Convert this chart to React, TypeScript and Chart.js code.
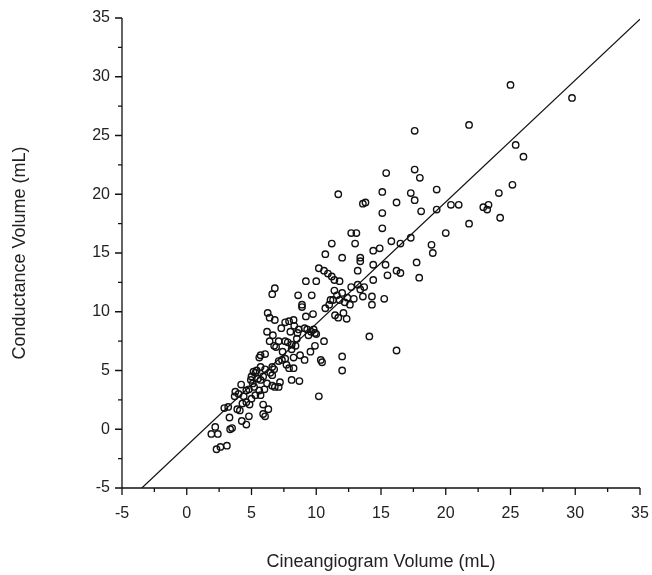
import React, { useEffect, useRef } from 'react';
import { Chart, registerables } from 'chart.js';

Chart.register(...registerables);

// Cineangiogram volume (x) vs conductance volume (y), mL
const cineX = [
  2.2, 1.9, 2.4, 2.3, 2.6, 3.1, 3.3, 3.35, 3.5, 2.9, 3.2, 3.7, 3.75, 4.2, 3.9, 4.1, 4.3, 4.6, 4.25, 4.6,
  4.8, 4.85, 4.6, 4.8, 4.95, 5.0, 5.3, 5.15, 5.4, 5.2, 5.6, 5.3, 5.7, 5.9, 5.9, 6.3, 6.05, 5.7, 5.9, 6.05,
  5.6, 5.7, 6.05, 6.2, 6.25, 6.4, 6.6, 6.8, 6.4, 6.75, 6.9, 7.1, 6.8, 6.65, 6.6, 6.75, 6.45, 6.6, 6.2, 6.6,
  6.8, 7.1, 7.2, 7.1, 7.35, 7.6, 7.3, 7.6, 7.9, 7.6, 7.8, 8.1, 7.7, 8.1, 8.25, 8.25, 8.1, 8.4, 8.25, 8.3,
  8.55, 8.65, 8.7, 8.6, 8.9, 8.9, 8.75, 9.1, 9.2, 9.65, 9.75, 9.1, 9.3, 9.6, 9.8, 9.9, 10.0, 9.55, 9.9, 10.35,
  10.45, 10.2, 10.6, 11.1,
  5.1, 5.5, 4.4, 4.0, 5.0, 6.0, 7.4, 8.0, 7.9, 9.4, 8.5, 5.7,
  11.7, 15.1, 17.3, 13.6, 13.8, 16.2, 17.6, 15.1, 18.1, 15.1, 12.7, 13.1, 11.2, 13.0, 15.8, 16.5, 17.3, 14.4, 14.9, 12.0,
  13.4, 13.4, 14.4, 15.35, 17.75, 13.2, 16.2, 16.5, 15.5, 14.4, 17.95, 12.7, 13.7, 13.4, 14.3, 15.25, 13.6, 12.9, 14.3, 11.45,
  11.7, 12.1, 12.35, 14.1, 12.0, 12.0, 16.2,
  15.4, 17.6, 18.0, 17.6,
  10.7, 10.2, 10.6, 10.9, 11.2, 11.4, 11.8, 9.2, 10.0,
  11.4, 11.6, 12.0, 11.8, 12.2, 12.6, 13.2, 11.3, 12.4, 10.7, 11.0,
  25.0, 29.75, 21.8, 25.4, 26.0, 19.3, 25.15, 24.1, 19.3, 20.4, 21.0, 22.9, 23.3, 23.2, 24.2, 21.8, 20.0, 18.9, 19.0,
];

const condY = [
  0.2, -0.4, -0.4, -1.7, -1.5, -1.4, 1.0, 0.0, 0.1, 1.8, 1.9, 2.8, 3.2, 3.8, 1.7, 1.6, 2.2, 2.3, 0.7, 0.4,
  1.1, 2.1, 3.3, 3.4, 4.2, 4.5, 4.8, 4.9, 5.0, 3.6, 3.3, 2.9, 2.9, 2.1, 1.3, 1.7, 1.1, 4.2, 4.5, 5.1,
  6.1, 6.3, 6.4, 8.3, 9.9, 9.5, 11.5, 12.0, 7.5, 7.1, 7.0, 7.5, 9.3, 8.0, 5.3, 5.1, 4.8, 4.6, 3.9, 3.7,
  3.6, 3.6, 4.0, 5.8, 5.9, 6.0, 8.6, 9.1, 9.2, 7.5, 7.4, 7.2, 5.5, 4.2, 5.2, 6.1, 6.8, 7.1, 9.3, 8.8,
  8.2, 8.5, 4.1, 11.4, 10.6, 10.4, 6.3, 5.9, 9.6, 11.4, 9.8, 8.6, 8.5, 8.3, 8.5, 8.2, 8.1, 6.6, 7.1, 5.9,
  5.7, 2.8, 7.5, 11.0,
  3.9, 4.3, 2.8, 3.0, 2.6, 3.4, 6.6, 8.3, 5.2, 8.0, 7.7, 5.3,
  20.0, 20.2, 20.1, 19.2, 19.3, 19.3, 19.5, 18.4, 18.55, 17.1, 16.7, 16.7, 15.8, 15.8, 16.0, 15.8, 16.3, 15.2, 15.4, 14.6,
  14.6, 14.3, 14.0, 14.0, 14.2, 13.5, 13.5, 13.3, 13.1, 12.7, 12.9, 12.1, 12.1, 11.9, 11.3, 11.1, 11.3, 11.1, 10.6, 9.7,
  9.5, 9.9, 9.4, 7.9, 6.2, 5.0, 6.7,
  21.8, 22.1, 21.4, 25.4,
  14.9, 13.7, 13.5, 13.25, 13.0, 12.7, 12.6, 12.6, 12.6,
  11.8, 11.4, 11.6, 11.0, 10.8, 10.6, 12.3, 11.0, 11.2, 10.3, 10.6,
  29.3, 28.2, 25.9, 24.2, 23.2, 20.4, 20.8, 20.1, 18.7, 19.1, 19.1, 18.9, 19.1, 18.7, 18.0, 17.5, 16.7, 15.7, 15.0,
];

// Regression line end points
const lineX = [-3.47, 35];
const lineY = [-5, 34.9];

const axisMin = -5;
const axisMax = 35;
const majorStep = 5;
const minorStep = 2.5;

const xTitle = 'Cineangiogram Volume (mL)';
const yTitle = 'Conductance Volume (mL)';

const FONT = "'Liberation Sans', Arial, Helvetica, sans-serif";
const INK = '#111';
const TEXT = '#222';

const axisPlugin = {
  id: 'axisTicks',
  afterDraw(chart: any) {
    const { ctx, chartArea, scales } = chart;
    const xs = scales.x;
    const ys = scales.y;
    ctx.save();
    ctx.strokeStyle = INK;
    ctx.lineWidth = 1.3;
    ctx.beginPath();
    ctx.moveTo(chartArea.left, ys.getPixelForValue(axisMax));
    ctx.lineTo(chartArea.left, chartArea.bottom);
    ctx.lineTo(xs.getPixelForValue(axisMax), chartArea.bottom);
    const n = Math.round((axisMax - axisMin) / minorStep);
    for (let i = 0; i <= n; i++) {
      const v = axisMin + i * minorStep;
      const major = Math.abs(v / majorStep - Math.round(v / majorStep)) < 1e-6;
      const len = major ? 7 : 4;
      const px = xs.getPixelForValue(v);
      ctx.moveTo(px, chartArea.bottom);
      ctx.lineTo(px, chartArea.bottom + len);
      const py = ys.getPixelForValue(v);
      ctx.moveTo(chartArea.left - len, py);
      ctx.lineTo(chartArea.left, py);
    }
    ctx.stroke();
    ctx.restore();
  },
};

export default function App() {
  const ref = useRef<HTMLCanvasElement | null>(null);

  useEffect(() => {
    if (!ref.current) return;
    const points = cineX.map((x, i) => ({ x, y: condY[i] }));
    const line = lineX.map((x, i) => ({ x, y: lineY[i] }));
    const chart = new Chart(ref.current, {
      type: 'scatter',
      data: {
        datasets: [
          {
            data: points,
            pointRadius: 3.2,
            pointBorderWidth: 1.4,
            pointBorderColor: INK,
            pointBackgroundColor: 'rgba(0,0,0,0)',
            borderColor: INK,
            backgroundColor: 'rgba(0,0,0,0)',
          },
          {
            data: line,
            showLine: true,
            borderColor: INK,
            borderWidth: 1.2,
            pointRadius: 0,
            fill: false,
          },
        ],
      },
      options: {
        animation: false,
        responsive: false,
        devicePixelRatio: 1,
        layout: { padding: 0 },
        plugins: { legend: { display: false }, tooltip: { enabled: false } },
        scales: {
          x: {
            type: 'linear',
            min: axisMin,
            max: axisMax,
            grid: { display: false, drawTicks: false },
            border: { display: false },
            ticks: {
              stepSize: majorStep,
              padding: 16,
              color: TEXT,
              font: { family: FONT, size: 16 },
              callback: (v: any) => String(v),
            },
            title: {
              display: true,
              text: xTitle,
              color: TEXT,
              font: { family: FONT, size: 18 },
              padding: { top: 0, bottom: 2 },
            },
            afterFit: (s: any) => {
              s.height = 87;
              s.paddingLeft = 0;
              s.paddingRight = 12;
            },
          },
          y: {
            type: 'linear',
            min: axisMin,
            max: axisMax,
            grid: { display: false, drawTicks: false },
            border: { display: false },
            ticks: {
              stepSize: majorStep,
              padding: 12,
              color: TEXT,
              font: { family: FONT, size: 16 },
              callback: (v: any) => String(v),
            },
            title: {
              display: true,
              text: yTitle,
              color: TEXT,
              font: { family: FONT, size: 18 },
              padding: { top: 9, bottom: 0 },
            },
            afterFit: (s: any) => {
              s.width = 122;
              s.paddingTop = 18;
              s.paddingBottom = 0;
            },
          },
        },
      },
      plugins: [axisPlugin],
    } as any);
    return () => chart.destroy();
  }, []);

  return (
    <div style={{ position: 'absolute', left: 0, top: 0, width: 652, height: 575, background: '#fff' }}>
      <canvas ref={ref} width={652} height={575} style={{ display: 'block' }} />
    </div>
  );
}
